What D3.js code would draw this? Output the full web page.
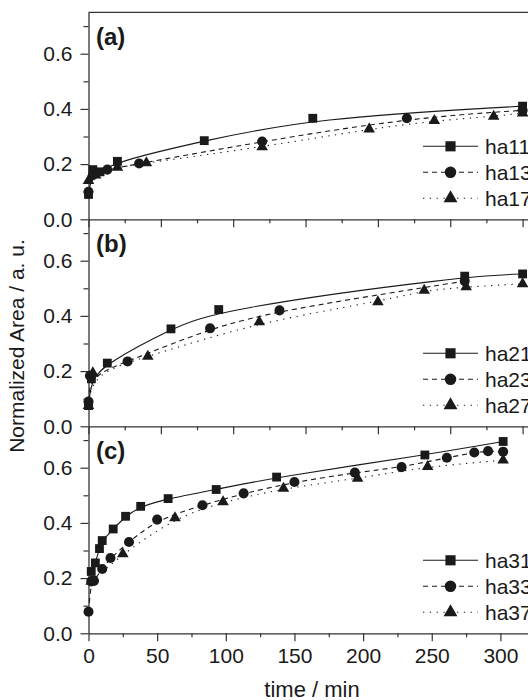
<!DOCTYPE html>
<html>
<head>
<meta charset="utf-8">
<script src="https://cdn.jsdelivr.net/npm/d3@7"></script>
<style>
  body { margin: 0; background: #fff; }
  svg { display: block; font-family: "Liberation Sans", Arial, sans-serif; }
</style>
</head>
<body>
<svg width="528" height="700"></svg>
<script>

// panel (a)
const ha11 = [[0,0.09],[3,0.18],[8,0.172],[20,0.21],[80,0.285],[155,0.366],[300,0.41]];
const ha13 = [[0,0.1],[3,0.16],[13,0.18],[35,0.202],[120,0.282],[220,0.366],[300,0.395]];
const ha17 = [[0,0.14],[5,0.16],[20,0.188],[40,0.204],[120,0.262],[194,0.327],[239,0.357],[280,0.373],[300,0.385]];

// panel (b)
const ha21 = [[0,0.075],[2,0.172],[13,0.229],[57,0.353],[90,0.423],[260,0.544],[300,0.552]];
const ha23 = [[0,0.09],[1,0.183],[27,0.235],[84,0.355],[132,0.42],[260,0.526]];
const ha27 = [[0,0.075],[3,0.193],[41,0.253],[118,0.378],[200,0.451],[232,0.492],[261,0.505],[300,0.516]];

// panel (c)
const ha31 = [[2,0.224],[5,0.255],[8,0.307],[10,0.336],[18,0.378],[27,0.424],[38,0.46],[58,0.488],[93,0.521],[137,0.566],[245,0.646],[302,0.695]];
const ha33 = [[0,0.078],[2,0.188],[4,0.19],[10,0.233],[16,0.273],[29.5,0.331],[50,0.412],[83,0.464],[113,0.507],[150,0.548],[194,0.582],[228,0.602],[261,0.636],[281,0.655],[291,0.66],[302,0.658]];
const ha37 = [[2,0.188],[25,0.288],[63,0.418],[98,0.476],[142,0.525],[196,0.561],[247,0.604],[302,0.627]];

const panelLabels = ["(a)", "(b)", "(c)"];
const legendNames = [["ha11","ha13","ha17"],["ha21","ha23","ha27"],["ha31","ha33","ha37"]];
const xMajor = [0,50,100,150,200,250,300];
const xMinor = [25,75,125,175,225,275,325];
const yMajor = [0,0.2,0.4,0.6];
const yMinor = [0.1,0.3,0.5,0.7];

// panels (a) and (b) are a bit wider on the time axis than (c) in the original
const panels = [
  {series: [ha11, ha13, ha17], pxPerMin: 1.447, labels: false},
  {series: [ha21, ha23, ha27], pxPerMin: 1.447, labels: false},
  {series: [ha31, ha33, ha37], pxPerMin: 1.373, labels: true}
];

const styles = [
  {dash: null, sym: d3.symbolSquare, size: 78},
  {dash: "5,4", sym: d3.symbolCircle, size: 80},
  {dash: "1.3,5.5", sym: d3.symbolTriangle, size: 58}
];

const svg = d3.select("svg");
const left = 88.5, plotTop = 12.3, ph = 207;
const ink = "#1a1a1a";

panels.forEach(function(p, i){
    const y0 = plotTop + i * ph;
    const x = d3.scaleLinear().domain([0, 330]).range([left, left + 330 * p.pxPerMin]);
    const y = d3.scaleLinear().domain([0, 0.75]).range([y0 + ph, y0]);
    const g = svg.append("g");

    // y axis (major + minor)
    g.append("g").attr("transform", "translate(" + left + ",0)")
	.call(d3.axisLeft(y).tickValues(yMajor).tickSize(8).tickSizeOuter(0).tickPadding(8).tickFormat(d3.format(".1f")))
	.call(styleAxis);
    g.append("g").attr("transform", "translate(" + left + ",0)")
	.call(d3.axisLeft(y).tickValues(yMinor).tickSize(5).tickFormat(""))
	.call(styleAxis).select(".domain").remove();

    // x axis
    g.append("g").attr("transform", "translate(0," + (y0 + ph) + ")")
	.call(d3.axisBottom(x).tickValues(xMajor).tickSize(8).tickSizeOuter(0).tickPadding(7)
	      .tickFormat(p.labels ? d3.format("d") : ""))
	.call(styleAxis);
    g.append("g").attr("transform", "translate(0," + (y0 + ph) + ")")
	.call(d3.axisBottom(x).tickValues(xMinor).tickSize(4).tickFormat(""))
	.call(styleAxis).select(".domain").remove();

    // lines
    const line = d3.line().x(d => x(d[0])).y(d => y(d[1])).curve(d3.curveBasis);
    p.series.forEach(function(s, k){
	g.append("path").datum(s)
	    .attr("d", line)
	    .attr("fill", "none")
	    .attr("stroke", ink)
	    .attr("stroke-width", 1.1)
	    .attr("stroke-dasharray", styles[k].dash);
    });
    // markers
    p.series.forEach(function(s, k){
	g.selectAll(null).data(s).enter().append("path")
	    .attr("d", d3.symbol().type(styles[k].sym).size(styles[k].size))
	    .attr("transform", d => "translate(" + x(d[0]) + "," + y(d[1]) + ")")
	    .attr("fill", ink);
    });

    // panel label
    g.append("text").attr("x", 96).attr("y", y0 + 33)
	.attr("font-size", "24px").attr("font-weight", "700").attr("fill", ink)
	.text(panelLabels[i]);

    // legend
    legendNames[i].forEach(function(name, k){
	const ly = y0 + ph - 73 + k * 26;
	g.append("line").attr("x1", 423).attr("x2", 478).attr("y1", ly).attr("y2", ly)
	    .attr("stroke", ink).attr("stroke-width", 1.1)
	    .attr("stroke-dasharray", styles[k].dash);
	g.append("path")
	    .attr("d", d3.symbol().type(styles[k].sym).size(styles[k].size + 25))
	    .attr("transform", "translate(450.5," + ly + ")")
	    .attr("fill", ink);
	g.append("text").attr("x", 485).attr("y", ly).attr("dy", "0.36em")
	    .attr("font-size", "21px").attr("fill", ink).text(name);
    });
});

// top frame line
svg.append("line").attr("x1", left).attr("x2", 560).attr("y1", plotTop).attr("y2", plotTop)
    .attr("stroke", "#333").attr("stroke-width", 1.3);

// axis titles
svg.append("text").attr("x", 312).attr("y", 697).attr("text-anchor", "middle")
    .attr("font-size", "22px").attr("fill", ink).text("time / min");
svg.append("text").attr("transform", "translate(24,346) rotate(-90)").attr("text-anchor", "middle")
    .attr("font-size", "21px").attr("fill", ink).text("Normalized Area / a. u.");

function styleAxis(sel){
    sel.select(".domain").attr("stroke", "#333").attr("stroke-width", 1.3);
    sel.selectAll(".tick line").attr("stroke", "#333").attr("stroke-width", 1.2);
    sel.selectAll(".tick text").attr("font-size", "21px").attr("fill", ink)
	.attr("font-family", "Liberation Sans, Arial, sans-serif");
}
</script>
</body>
</html>
